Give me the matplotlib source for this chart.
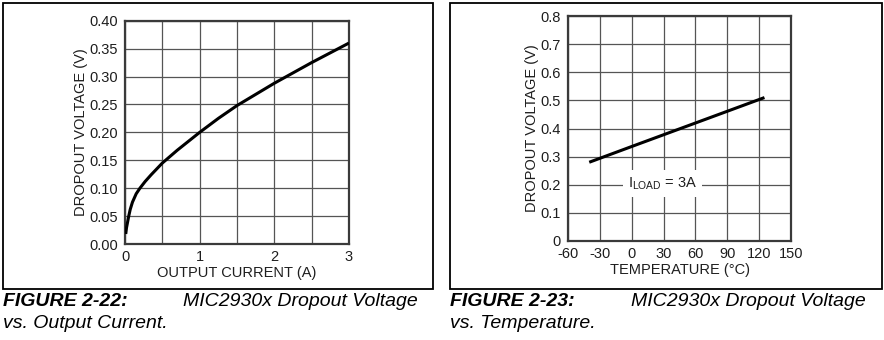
import matplotlib
matplotlib.use("Agg")
import matplotlib.pyplot as plt
from matplotlib.patches import Rectangle
from matplotlib.ticker import MultipleLocator, FixedLocator

plt.rcParams['font.family'] = ['Liberation Sans', 'DejaVu Sans']

# Figure 2-22: dropout voltage vs. output current
current_a = [0.01, 0.02, 0.03, 0.05, 0.07, 0.1, 0.15, 0.2, 0.27, 0.35, 0.5, 0.7,
             1.0, 1.25, 1.5, 2.0, 2.5, 3.0]
dropout_v_current = [0.018, 0.029, 0.036, 0.050, 0.062, 0.075, 0.090, 0.100, 0.112,
                     0.124, 0.145, 0.168, 0.200, 0.225, 0.248, 0.288, 0.325, 0.360]
current_ticks = [0, 1, 2, 3]
current_ytick_labels = ["0.00", "0.05", "0.10", "0.15", "0.20", "0.25", "0.30", "0.35", "0.40"]

# Figure 2-23: dropout voltage vs. temperature at 3A load
temperature_c = [-40, 0, 125]
dropout_v_temp = [0.280, 0.336, 0.510]
temp_ticks = [-60, -30, 0, 30, 60, 90, 120, 150]
temp_ytick_labels = ["0", "0.1", "0.2", "0.3", "0.4", "0.5", "0.6", "0.7", "0.8"]

W, H = 884, 340
fig = plt.figure(figsize=(W / 100, H / 100), dpi=100)

def fx(px):
    return px / W

def fy(py):
    return 1 - py / H

# panel frames
for x0, x1 in [(3, 433), (450, 882)]:
    fig.patches.append(Rectangle((fx(x0), fy(289)), fx(x1) - fx(x0), fy(3) - fy(289),
                                 transform=fig.transFigure, fill=False,
                                 edgecolor='black', linewidth=1.3))

TICK_FS = 10.5
GRID_C = '#555555'
SPINE_C = '#3a3a3a'
TEXT_C = '#1e1e1e'

def style_axes(ax):
    ax.set_facecolor('white')
    for s in ax.spines.values():
        s.set_color(SPINE_C)
        s.set_linewidth(1.6)
    ax.grid(True, which='both', color=GRID_C, linewidth=0.9)
    ax.set_axisbelow(True)
    ax.tick_params(which='both', length=0, labelsize=TICK_FS, colors=TEXT_C)
    ax.tick_params(axis='x', pad=4)
    ax.tick_params(axis='y', pad=5)

# left chart
ax1 = fig.add_axes([fx(125), fy(244), fx(349) - fx(125), fy(20.7) - fy(244)])
ax1.plot(current_a, dropout_v_current, color='black', linewidth=2.2,
         solid_capstyle='butt', zorder=3)
ax1.set_xlim(0, 3)
ax1.set_ylim(0, 0.40)
ax1.xaxis.set_major_locator(FixedLocator(current_ticks))
ax1.xaxis.set_minor_locator(MultipleLocator(0.5))
ax1.set_xticklabels([str(t) for t in current_ticks])
ax1.set_yticks([i * 0.05 for i in range(len(current_ytick_labels))])
ax1.set_yticklabels(current_ytick_labels)
style_axes(ax1)
ax1.set_xlabel("OUTPUT CURRENT (A)", fontsize=TICK_FS, color=TEXT_C, labelpad=2)
ax1.set_ylabel("DROPOUT VOLTAGE (V)", fontsize=TICK_FS, color=TEXT_C, labelpad=1)

# right chart
ax2 = fig.add_axes([fx(568), fy(241), fx(791) - fx(568), fy(16) - fy(241)])
ax2.plot(temperature_c, dropout_v_temp, color='black', linewidth=2.2,
         solid_capstyle='butt', zorder=3)
ax2.set_xlim(-60, 150)
ax2.set_ylim(0, 0.8)
ax2.set_xticks(temp_ticks)
ax2.set_xticklabels([str(t) for t in temp_ticks])
ax2.set_yticks([i * 0.1 for i in range(len(temp_ytick_labels))])
ax2.set_yticklabels(temp_ytick_labels)
style_axes(ax2)
ax2.set_xlabel("TEMPERATURE (°C)", fontsize=TICK_FS, color=TEXT_C, labelpad=2)
ax2.set_ylabel("DROPOUT VOLTAGE (V)", fontsize=TICK_FS, color=TEXT_C, labelpad=1)
ax2.text(29, 0.205, r"I$_{\mathregular{LOAD}}$ = 3A", fontsize=TICK_FS, color=TEXT_C,
         ha='center', va='center', zorder=4,
         bbox=dict(facecolor='white', edgecolor='none', pad=3.5))

# captions
CAP_FS = 14
for x_fig, x_desc, num, line2 in [(3, 183, "FIGURE 2-22:", "vs. Output Current."),
                                  (450, 631, "FIGURE 2-23:", "vs. Temperature.")]:
    fig.text(fx(x_fig), fy(301.5), num, fontsize=CAP_FS, fontweight='bold',
             fontstyle='italic', ha='left', va='center', color='black')
    fig.text(fx(x_desc), fy(301.5), "MIC2930x Dropout Voltage", fontsize=CAP_FS,
             fontstyle='italic', ha='left', va='center', color='black')
    fig.text(fx(x_fig), fy(323), line2, fontsize=CAP_FS, fontstyle='italic',
             ha='left', va='center', color='black')

fig.savefig("out.png", dpi=100, facecolor='white')
